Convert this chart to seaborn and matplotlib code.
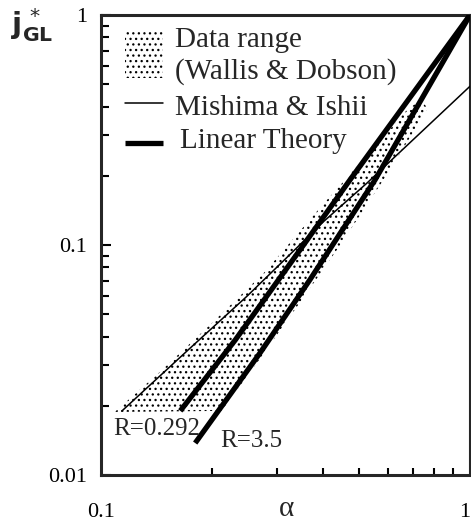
import numpy as np
import pandas as pd
import matplotlib
matplotlib.use("Agg")
import matplotlib.pyplot as plt
import seaborn as sns
from matplotlib.patches import Rectangle
from matplotlib.lines import Line2D
from matplotlib.ticker import FixedLocator, NullFormatter, FixedFormatter

# ---------------- data ----------------
# Linear theory, R = 0.292
alpha_r1 = [0.164, 0.231, 0.346, 0.473, 1.0]
j_r1 = [0.0190, 0.0386, 0.0951, 0.192, 1.0]
# Linear theory, R = 3.5
alpha_r2 = [0.180, 0.270, 0.368, 0.553, 1.0]
j_r2 = [0.01377, 0.0340, 0.0705, 0.192, 1.0]
# Mishima & Ishii
alpha_mi = [0.114, 0.174, 0.249, 0.331, 0.400, 0.526, 1.0]
j_mi = [0.0190, 0.0355, 0.0600, 0.0935, 0.126, 0.186, 0.49]
# Data range (Wallis & Dobson): upper and lower boundaries
alpha_up = [0.109, 0.1445, 0.201, 0.278, 0.392, 0.536, 0.667, 0.732]
j_up = [0.0188, 0.0281, 0.0462, 0.0764, 0.145, 0.254, 0.379, 0.427]
alpha_lo = [0.212, 0.268, 0.350, 0.445, 0.607, 0.769]
j_lo = [0.0190, 0.0316, 0.0577, 0.100, 0.212, 0.394]

# curve labels
label_text = ["R=0.292", "R=3.5"]
label_alpha = [0.1077, 0.210]
label_j = [0.0149, 0.01324]

x_ticks = [0.1, 1]
x_ticklabels = ["0.1", "1"]
y_ticks = [0.01, 0.1, 1]
y_ticklabels = ["0.01", "0.1", "1"]

# ---------------- style ----------------
sns.set_theme(style="ticks")
plt.rcParams["font.family"] = ["Liberation Serif", "DejaVu Serif"]
plt.rcParams["mathtext.fontset"] = "dejavusans"
plt.rcParams["hatch.linewidth"] = 0.9
plt.rcParams["hatch.color"] = "black"

W, H = 471, 528
fig = plt.figure(figsize=(W / 100, H / 100), dpi=100)
ax = fig.add_axes([101 / W, 1 - 475 / H, 369 / W, 460 / H])

# shaded data range
poly_a = alpha_up + alpha_lo[::-1]
poly_j = j_up + j_lo[::-1]
ax.fill(poly_a, poly_j, facecolor="none", edgecolor="black", linewidth=0,
        hatch="...", zorder=1)

df_mi = pd.DataFrame({"alpha": alpha_mi, "j": j_mi})
df_r1 = pd.DataFrame({"alpha": alpha_r1, "j": j_r1})
df_r2 = pd.DataFrame({"alpha": alpha_r2, "j": j_r2})

sns.lineplot(data=df_mi, x="alpha", y="j", ax=ax, color="black", linewidth=1.1,
             sort=False, estimator=None, zorder=3)
for d in (df_r1, df_r2):
    sns.lineplot(data=d, x="alpha", y="j", ax=ax, color="black", linewidth=3.8,
                 sort=False, estimator=None, zorder=4, solid_capstyle="butt")

ax.set_xscale("log")
ax.set_yscale("log")
ax.set_xlim(0.1, 1)
ax.set_ylim(0.01, 1)

for t, a, jv in zip(label_text, label_alpha, label_j):
    ax.text(a, jv, t, fontsize=18, va="baseline", ha="left", zorder=5)

# axes styling
for s in ["left", "top", "bottom"]:
    ax.spines[s].set_linewidth(2.2)
ax.spines["right"].set_linewidth(1.5)
ax.xaxis.set_major_locator(FixedLocator(x_ticks))
ax.xaxis.set_major_formatter(FixedFormatter(x_ticklabels))
ax.yaxis.set_major_locator(FixedLocator(y_ticks))
ax.yaxis.set_major_formatter(FixedFormatter(y_ticklabels))
ax.xaxis.set_minor_locator(FixedLocator([k / 10 for k in range(2, 10)]))
ax.yaxis.set_minor_locator(FixedLocator([k / 100 for k in range(2, 10)] + [k / 10 for k in range(2, 10)]))
ax.xaxis.set_minor_formatter(NullFormatter())
ax.yaxis.set_minor_formatter(NullFormatter())
ax.tick_params(axis="both", which="both", direction="in", top=False, right=False,
               width=1.5, labelsize=16, colors="black")
ax.tick_params(axis="y", which="major", length=7, pad=10)
ax.tick_params(axis="y", which="minor", length=6)
ax.tick_params(axis="x", which="major", length=0, pad=20)
ax.tick_params(axis="x", which="minor", length=5)
ax.set_xlabel("α", fontsize=21)
ax.xaxis.set_label_coords(0.504, -0.046)
ax.set_ylabel("")
fig.canvas.draw()
xlabels = ax.get_xticklabels()
xlabels[-1].set_horizontalalignment("right")

# manual legend
ax.add_patch(Rectangle((0.065, 0.863), 0.103, 0.104, transform=ax.transAxes,
                       facecolor="none", edgecolor="black", linewidth=0,
                       hatch="...", zorder=2))
ax.add_line(Line2D([0.065, 0.168], [0.808, 0.808], transform=ax.transAxes,
                   color="black", linewidth=1.1))
ax.add_line(Line2D([0.065, 0.168], [0.722, 0.722], transform=ax.transAxes,
                   color="black", linewidth=3.8, solid_capstyle="butt"))
leg_fs = 21
ax.text(0.2005, 0.930, "Data range", transform=ax.transAxes, fontsize=leg_fs, va="baseline")
ax.text(0.2005, 0.861, "(Wallis & Dobson)", transform=ax.transAxes, fontsize=leg_fs, va="baseline")
ax.text(0.2005, 0.783, "Mishima & Ishii", transform=ax.transAxes, fontsize=leg_fs, va="baseline")
ax.text(0.213, 0.711, "Linear Theory", transform=ax.transAxes, fontsize=leg_fs, va="baseline")

# y label
fig.text(11 / W, 1 - 6 / H, r"$\mathbf{j}^{\,*}_{\mathbf{GL}}$", fontsize=21,
         va="top", ha="left")

fig.savefig("out.png", dpi=100)
